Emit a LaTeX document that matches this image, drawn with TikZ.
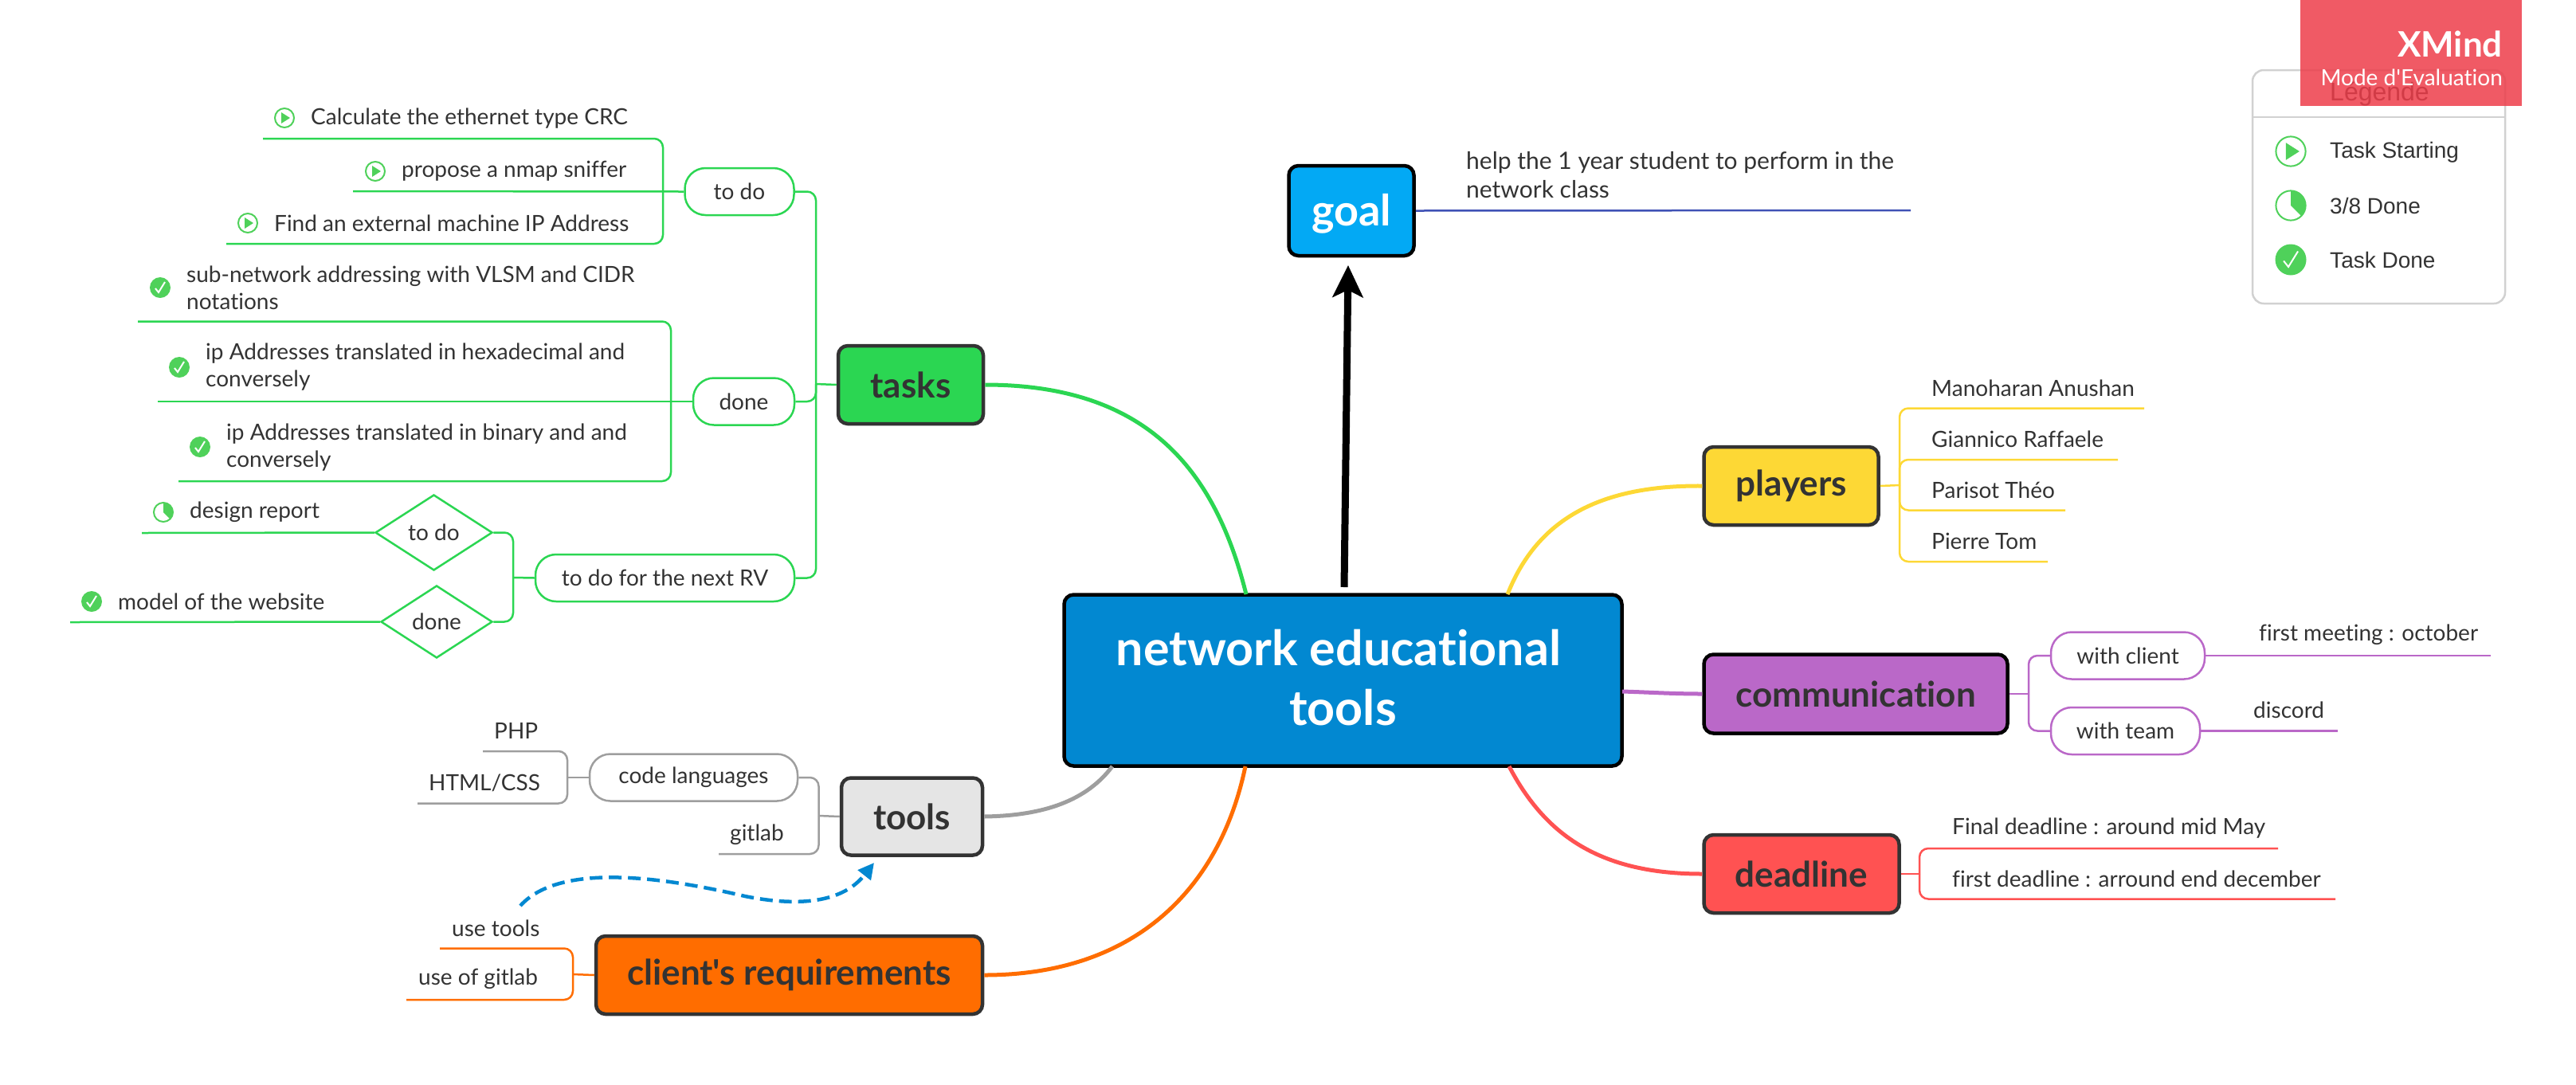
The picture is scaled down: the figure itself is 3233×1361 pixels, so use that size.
\documentclass[tikz,border=0pt]{standalone}
\usepackage{fontspec}
\setmainfont{Lato}[Ligatures={TeXOff,NoCommon}]
\newfontfamily\arialfont{Liberation Sans}
\usetikzlibrary{arrows.meta}
\usetikzlibrary{shapes.geometric}
\definecolor{greenln}{HTML}{2BD652}
\definecolor{icongreen}{HTML}{4FD15A}
\definecolor{inkc}{HTML}{333333}
\definecolor{yellowln}{HTML}{FDD835}
\definecolor{purpleln}{HTML}{BA68C8}
\definecolor{redln}{HTML}{FF5252}
\definecolor{orangeln}{HTML}{FF6D00}
\definecolor{grayln}{HTML}{9E9E9E}
\definecolor{blueln}{HTML}{3F51B5}
\definecolor{centralc}{HTML}{0288D1}
\definecolor{goalc}{HTML}{03A9F4}
\definecolor{banner}{HTML}{ED3D4A}
\tikzset{
	topic/.style={draw=inkc, line width=4.5pt, rounded corners=12pt, inner sep=0pt, text=inkc, font=\fontsize{44}{50}\selectfont\bfseries},
	pill/.style={draw, fill=white, line width=2.5pt, rounded corners=26pt, inner sep=0pt, minimum height=59pt, text=inkc, font=\fontsize{28}{32}\selectfont},
	choice/.style={draw, diamond, fill=white, line width=2.5pt, inner sep=0pt, text=inkc, font=\fontsize{28}{32}\selectfont},
	leaf/.style={inner sep=0pt, anchor=west, text=inkc, align=left, font=\fontsize{28}{34}\selectfont},
	% legend entries
	legendtxt/.style={inner sep=0pt, anchor=west, text=inkc, font=\fontsize{28}{32}\selectfont\arialfont},
	main/.style={line width=5pt},
	sub/.style={line width=2.5pt, rounded corners=11pt},
	startico/.pic={
		\draw[icongreen, line width=2pt] (0,0) circle (12);
		\fill[icongreen] (-4,-7) -- (7,0) -- (-4,7) -- cycle;
	},
	partico/.pic={
		\fill[icongreen] (0,0) -- (0,-12) arc (-90:45:12) -- cycle;
		\draw[icongreen, line width=2pt] (0,0) circle (12);
	},
	doneico/.pic={
		\fill[icongreen] (0,0) circle (13);
		\draw[white, line width=2pt] (-6,1) -- (-2,6) -- (6,-7);
	},
}
\begin{document}
\begin{tikzpicture}[x=1pt, y=-1pt]
	\useasboundingbox (0,0) rectangle (3233,1361);
	
	% free ends of the lines
	\coordinate (calcend) at (330,174);
	\coordinate (propend) at (443,240);
	\coordinate (findend) at (284,306);
	\coordinate (subnend) at (173,403.5);
	\coordinate (hexaend) at (198,504);
	\coordinate (binend) at (224,604);
	\coordinate (reportend) at (178,669);
	\coordinate (modelend) at (88,781);
	\coordinate (phpend) at (606,943);
	\coordinate (htmlend) at (524,1008.5);
	\coordinate (gitend) at (902,1072);
	\coordinate (useend) at (552,1190.5);
	\coordinate (usegitend) at (510,1255);
	\coordinate (goalend) at (2398,264);
	\coordinate (manoend) at (2691,512.5);
	\coordinate (gianend) at (2658,577);
	\coordinate (pariend) at (2592,640.5);
	\coordinate (pierend) at (2570,705);
	\coordinate (meetend) at (3126,823);
	\coordinate (discend) at (2934,917.5);
	\coordinate (finalend) at (2859,1065);
	\coordinate (firstend) at (2931,1128.5);
	
	% where the main curves leave the central box
	\coordinate (ctasks) at (1564,746);
	\coordinate (cplayers) at (1892,746);
	\coordinate (ccomm) at (2036,868);
	\coordinate (cdead) at (1894,962);
	\coordinate (cclient) at (1563,962);
	\coordinate (ctools) at (1396,962);
	
	% elbows
	\coordinate (jtodo) at (832,240);
	\coordinate (jdone) at (842,504);
	\coordinate (jnext) at (644,725);
	\coordinate (jtasks) at (1024,482);
	\coordinate (jcode) at (712,976);
	\coordinate (jtools) at (1027.5,1024);
	\coordinate (jclient) at (719,1223);
	\coordinate (jplayers) at (2384,609);
	\coordinate (jcomm) at (2546,871);
	\coordinate (jdead) at (2409,1097);
	
	\node (central) [topic, draw=black, fill=centralc, text=white, minimum width=700pt, minimum height=215pt, align=center, font=\fontsize{61}{73}\selectfont\bfseries] at (1685.5,854) {\raisebox{4pt}[\height][\depth]{network educational}\hspace*{11pt}\\\raisebox{2pt}[\height][\depth]{tools}};
	\node (goal) [topic, draw=black, fill=goalc, text=white, minimum width=157pt, minimum height=113pt, font=\fontsize{54}{60}\selectfont\bfseries] at (1696,264.5) {\raisebox{-4pt}[\height][\depth]{goal}};
	\node (tasks) [topic, fill=greenln, minimum width=182pt, minimum height=98pt] at (1143,483) {tasks};
	\node (tools) [topic, fill=black!10, minimum width=177pt, minimum height=97pt] at (1144.5,1025) {tools};
	\node (client) [topic, fill=orangeln, minimum width=485pt, minimum height=98pt] at (990.5,1224) {client's requirements};
	\node (players) [topic, fill=yellowln, minimum width=219pt, minimum height=98pt] at (2248,610) {players};
	\node (comm) [topic, draw=black, fill=purpleln, minimum width=381pt, minimum height=99pt] at (2329,871) {communication};
	\node (deadline) [topic, fill=redln, minimum width=245pt, minimum height=98pt] at (2261,1097) {deadline};
	
	\node (todo) [pill, draw=greenln, minimum width=137pt] at (928,240.5) {to do};
	\node (done) [pill, draw=greenln, minimum width=127pt] at (933.5,504) {done};
	\node (next) [pill, draw=greenln, minimum width=325pt] at (834.5,725.5) {to do for the next RV};
	\node (dtodo) [choice, draw=greenln, minimum width=147pt, minimum height=95pt, aspect=1.55] at (544.5,668.5) {to do};
	\node (ddone) [choice, draw=greenln, minimum width=140pt, minimum height=91pt, aspect=1.55] at (548,780.5) {done};
	\node (code) [pill, draw=grayln, minimum width=261pt] at (870.5,976) {code languages};
	\node (wclient) [pill, draw=purpleln, minimum width=193pt] at (2670.5,823) {with client};
	\node (wteam) [pill, draw=purpleln, minimum width=187pt] at (2667.5,917.5) {with team};
	
	\node (tcalc) [leaf] at (390,149) {Calculate the ethernet type CRC};
	\node (tprop) [leaf] at (504,215) {propose a nmap sniffer};
	\node (tfind) [leaf] at (344,280) {Find an external machine IP Address};
	\node (tsubn) [leaf] at (234,361.5) {sub-network addressing with VLSM and CIDR\\notations};
	\node (thexa) [leaf] at (258,461) {ip Addresses translated in hexadecimal and\\conversely};
	\node (tbin) [leaf] at (284,562) {ip Addresses translated in binary and and\\conversely};
	\node (treport) [leaf] at (238,643) {design report};
	\node (tmodel) [leaf] at (148,755) {model of the website};
	\node (tphp) [leaf] at (620,917) {PHP};
	\node (thtml) [leaf] at (538,983) {HTML/CSS};
	\node (tgit) [leaf] at (916,1048) {gitlab};
	\node (tuse) [leaf] at (567,1165) {use tools};
	\node (tusegit) [leaf] at (525,1229) {use of gitlab};
	\node (tgoal) [leaf, font=\fontsize{30}{36}\selectfont] at (1840,220) {help the 1 year student to perform in the\\network class};
	\node (tmano) [leaf] at (2424,487) {Manoharan Anushan};
	\node (tgian) [leaf] at (2424,551) {Giannico Raffaele};
	\node (tpari) [leaf] at (2424,615) {Parisot Théo};
	\node (tpier) [leaf] at (2424,679) {Pierre Tom};
	\node (tmeet) [leaf] at (2835,797) {first meeting : october};
	\node (tdisc) [leaf] at (2828,891) {discord};
	\node (tfinal) [leaf] at (2450,1040) {Final deadline : around mid May};
	\node (tfirst) [leaf] at (2450,1103) {first deadline : arround end december};
	
	\pic at (357,148) {startico};
	\pic at (471,215) {startico};
	\pic at (311,280) {startico};
	\pic at (201,361) {doneico};
	\pic at (225,461) {doneico};
	\pic at (251,561) {doneico};
	\pic at (205,643) {partico};
	\pic at (115,755) {doneico};
	
	% main curves
	\begin{scope}[main]
		\draw[greenln] (tasks.east) .. controls (1440,483) and (1525,590) .. (ctasks);
		\draw[grayln] (tools.east) .. controls (1300,1024) and (1360,1010) .. (ctools);
		\draw[orangeln] (client.east) .. controls (1420,1224) and (1530,1120) .. (cclient);
		\draw[yellowln] (players.west) .. controls (2010,609) and (1930,650) .. (cplayers);
		\draw[purpleln] (ccomm) .. controls (2070,869) and (2100,871) .. (comm.west);
		\draw[redln] (deadline.west) .. controls (2010,1097) and (1940,1050) .. (cdead);
	\end{scope}
	
	\draw[line width=9pt, -{Stealth[length=40pt, width=38pt, inset=9pt]}] (1687,737) -- (1692,333);
	\draw[blueln, line width=2.5pt] (goal.east) -- (goalend);
	
	\begin{scope}[sub, greenln]
		\draw (todo.west) -- (propend);
		\draw (jtodo) |- (calcend);
		\draw (jtodo) |- (findend);
		\draw (done.west) -- (hexaend);
		\draw (jdone) |- (subnend);
		\draw (jdone) |- (binend);
		\draw (dtodo.west) -- (reportend);
		\draw (ddone.west) -- (modelend);
		\draw (next.west) -- (jnext);
		\draw (jnext) |- (dtodo.east);
		\draw (jnext) |- (ddone.east);
		\draw (tasks.west) -- (jtasks);
		\draw (jtasks) |- (todo.east);
		\draw (jtasks) |- (next.east);
		\draw (done.east) -- (jtasks |- done.east) -- (jtasks);
	\end{scope}
	
	\begin{scope}[sub, grayln]
		\draw (code.west) -- (jcode);
		\draw (jcode) |- (phpend);
		\draw (jcode) |- (htmlend);
		\draw (tools.west) -- (jtools);
		\draw (jtools) |- (code.east);
		\draw (jtools) |- (gitend);
	\end{scope}
	
	\begin{scope}[sub, orangeln]
		\draw (client.west) -- (jclient);
		\draw (jclient) |- (useend);
		\draw (jclient) |- (usegitend);
	\end{scope}
	
	\begin{scope}[sub, yellowln]
		\draw (players.east) -- (jplayers);
		\draw (jplayers) |- (manoend);
		\draw (jplayers) |- (gianend);
		\draw (jplayers) |- (pariend);
		\draw (jplayers) |- (pierend);
	\end{scope}
	
	\begin{scope}[sub, purpleln]
		\draw (comm.east) -- (jcomm);
		\draw (jcomm) |- (wclient.west);
		\draw (jcomm) |- (wteam.west);
		\draw (wclient.east) -- (meetend);
		\draw (wteam.east) -- (discend);
	\end{scope}
	
	\begin{scope}[sub, redln]
		\draw (deadline.east) -- (jdead);
		\draw (jdead) |- (finalend);
		\draw (jdead) |- (firstend);
	\end{scope}
	
	% dashed relation
	\coordinate (relstart) at (653,1137);
	\draw[centralc, line width=4.5pt, dash pattern=on 16pt off 8pt, -{Stealth[length=20pt, width=20pt, inset=0pt]}] (relstart) .. controls (700,1085) and (820,1098) .. (935,1125) .. controls (1010,1140) and (1060,1130) .. (1097,1083);
	
	% legend
	\node (legend) [draw=black!18, line width=2.5pt, rounded corners=14pt, minimum width=317pt, minimum height=293pt, inner sep=0pt] at (2985.5,234.5) {};
	\draw[black!18, line width=2.5pt] (legend.west |- 0,147) -- (legend.east |- 0,147);
	\node (ltitle) [legendtxt, font=\fontsize{32}{36}\selectfont\arialfont] at (2924,118) {Légende};
	\pic[scale=1.55] at (2875,190) {startico};
	\pic[scale=1.55] at (2875,258) {partico};
	\pic[scale=1.5] at (2875,326) {doneico};
	\node (lstart) [legendtxt] at (2924,191) {Task Starting};
	\node (lpart) [legendtxt] at (2924,258) {3/8 Done};
	\node (ldone) [legendtxt] at (2924,326) {Task Done};
	
	% evaluation banner
	\node (bannerbox) [fill=banner, fill opacity=0.85, minimum width=278pt, minimum height=133pt, inner sep=0pt] at (3026,66.5) {};
	\node (xmind) [inner sep=0pt, anchor=east, text=white, font=\fontsize{44}{50}\selectfont\bfseries] at (3141,55) {XMind};
	\node (evalmode) [inner sep=0pt, anchor=east, text=white, font=\fontsize{28}{32}\selectfont] at (3141,97) {Mode d'Evaluation};
\end{tikzpicture}
\end{document}
